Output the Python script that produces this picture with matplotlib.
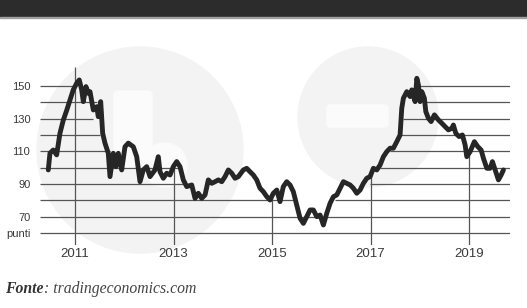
import numpy as np
import matplotlib
matplotlib.use("Agg")
import matplotlib.pyplot as plt
from matplotlib.patches import Circle, Rectangle, FancyBboxPatch

# ---------------- data ----------------
dates = [2010.458, 2010.492, 2010.559, 2010.628, 2010.695, 2010.762, 2010.831, 2010.898,
         2010.965, 2011.035, 2011.087, 2011.136, 2011.169, 2011.223, 2011.270, 2011.305,
         2011.372, 2011.441, 2011.473, 2011.522, 2011.562, 2011.609, 2011.676, 2011.711,
         2011.778, 2011.832, 2011.879, 2011.948, 2012.015, 2012.082, 2012.184, 2012.253,
         2012.320, 2012.387, 2012.456, 2012.523, 2012.624, 2012.691, 2012.726, 2012.793,
         2012.862, 2012.929, 2012.996, 2013.065, 2013.132, 2013.199, 2013.268, 2013.370,
         2013.437, 2013.504, 2013.573, 2013.640, 2013.707, 2013.776, 2013.843, 2013.910,
         2013.979, 2014.046, 2014.113, 2014.182, 2014.249, 2014.316, 2014.417, 2014.486,
         2014.553, 2014.620, 2014.689, 2014.756, 2014.823, 2014.892, 2014.959, 2015.026,
         2015.096, 2015.162, 2015.229, 2015.298, 2015.365, 2015.432, 2015.502, 2015.569,
         2015.636, 2015.705, 2015.772, 2015.839, 2015.908, 2015.975, 2016.042, 2016.111,
         2016.178, 2016.245, 2016.314, 2016.381, 2016.448, 2016.517, 2016.584, 2016.651,
         2016.720, 2016.787, 2016.854, 2016.923, 2016.990, 2017.057, 2017.126, 2017.193,
         2017.260, 2017.329, 2017.396, 2017.463, 2017.532, 2017.599, 2017.633, 2017.666,
         2017.735, 2017.802, 2017.836, 2017.904, 2017.939, 2017.971, 2018.005, 2018.040,
         2018.092, 2018.121, 2018.174, 2018.228, 2018.296, 2018.377, 2018.446, 2018.513,
         2018.580, 2018.649, 2018.681, 2018.730, 2018.797, 2018.864, 2018.919, 2018.953,
         2019.020, 2019.107, 2019.177, 2019.244, 2019.291, 2019.360, 2019.426, 2019.473,
         2019.528, 2019.595, 2019.650, 2019.697]
values = [98.6, 108.8, 110.8, 107.8, 121.0, 129.0, 135.0, 141.4,
          147.6, 151.7, 153.7, 147.6, 140.4, 149.6, 145.5, 146.5,
          135.3, 137.3, 131.2, 140.4, 121.0, 115.0, 108.8, 94.5,
          108.8, 100.6, 108.8, 98.6, 112.8, 115.0, 112.8, 106.7,
          91.4, 98.6, 100.6, 94.5, 98.6, 106.7, 97.5, 93.5,
          96.6, 95.5, 100.6, 103.7, 100.6, 92.5, 88.4, 89.4,
          81.2, 84.3, 81.2, 83.3, 92.5, 90.4, 91.4, 92.5,
          91.4, 94.5, 98.6, 96.6, 93.5, 94.5, 98.6, 99.6,
          97.5, 95.5, 92.5, 87.4, 85.3, 82.3, 80.2, 84.3,
          86.3, 79.2, 88.4, 91.4, 89.4, 85.3, 77.1, 69.0,
          65.9, 70.0, 74.1, 74.1, 70.0, 71.0, 64.9, 72.1,
          78.2, 82.2, 83.3, 87.4, 91.4, 90.4, 89.4, 87.4,
          84.3, 86.3, 90.4, 93.5, 94.5, 99.6, 98.6, 101.6,
          106.7, 109.8, 111.9, 111.9, 115.9, 120.0, 136.3, 142.5,
          146.5, 143.5, 147.6, 140.4, 154.7, 150.6, 140.4, 146.5,
          142.5, 134.3, 130.2, 128.2, 132.3, 129.2, 127.2, 125.1,
          123.1, 124.1, 126.1, 121.0, 119.0, 120.0, 113.9, 106.7,
          109.8, 115.9, 112.8, 110.8, 105.7, 99.6, 99.6, 103.7,
          98.6, 92.5, 95.5, 98.6]

grid_levels = [60, 70, 80, 90, 100, 110, 120, 130, 140, 150]
# visible gridline extents (left part ends / right part starts), None = full line
grid_left_end = [None, None, 2015.50, 2013.19, 2013.13, 2011.71, 2011.50, 2011.37, 2011.45, 2011.00]
grid_right_start = [None, None, 2016.28, 2016.99, 2017.19, 2017.40, 2017.60, 2017.66, 2018.07, 2018.00]

year_ticks = [2011, 2013, 2015, 2017, 2019]
year_labels = ["2011", "2013", "2015", "2017", "2019"]
y_ticks = [60, 70, 90, 110, 130, 150]
y_labels = ["punti", "70", "90", "110", "130", "150"]
source_bold = "Fonte"
source_rest = ": tradingeconomics.com"

# ---------------- figure ----------------
W, H = 527, 308
fig = plt.figure(figsize=(W / 100, H / 100), dpi=100)
fig.patch.set_facecolor("white")

# decoration layer (pixel coords)
bg = fig.add_axes([0, 0, 1, 1])
bg.set_xlim(0, W)
bg.set_ylim(H, 0)
bg.axis("off")
bg.add_patch(Rectangle((0, 0), W, 17, color="#2c2c2c", zorder=1))
bg.add_patch(Rectangle((0, 17), W, 1.2, color="#a0a0a0", zorder=1))
# watermark discs (very faint)
bg.add_patch(Circle((140, 150), 103, color="#f3f3f3", zorder=1))
bg.add_patch(Circle((368, 117), 70, color="#f3f3f3", zorder=1))
bg.add_patch(FancyBboxPatch((118, 95), 30, 70, boxstyle="round,pad=4", color="#fbfbfb", zorder=2))
bg.add_patch(Circle((165, 165), 22, color="#fbfbfb", zorder=2))
bg.add_patch(FancyBboxPatch((330, 108), 55, 16, boxstyle="round,pad=3", color="#fbfbfb", zorder=2))

# main chart
x0, x1 = 40, 510
ytop, ybot = 67, 245
ax = fig.add_axes([x0 / W, 1 - ybot / H, (x1 - x0) / W, (ybot - ytop) / H])
ax.patch.set_alpha(0)
xmin, xmax = 2010.29, 2019.83
ymin, ymax = 52.65, 161.6
ax.set_xlim(xmin, xmax)
ax.set_ylim(ymin, ymax)
for s in ax.spines.values():
    s.set_visible(False)

gcol = "#555555"
glw = 0.9
for lev, le, rs in zip(grid_levels, grid_left_end, grid_right_start):
    if le is None:
        ax.plot([xmin, xmax], [lev, lev], color=gcol, lw=glw, zorder=2, solid_capstyle="butt")
    else:
        ax.plot([xmin, le], [lev, lev], color=gcol, lw=glw, zorder=2, solid_capstyle="butt")
        ax.plot([rs, xmax], [lev, lev], color=gcol, lw=glw, zorder=2, solid_capstyle="butt")

for i, yr in enumerate(year_ticks):
    top = ymax if i == 0 else np.interp(yr, dates, values)
    ax.plot([yr, yr], [ymin, top], color=gcol, lw=glw, zorder=2, solid_capstyle="butt")

ax.plot(dates, values, color="#262626", lw=3.5, zorder=5, solid_joinstyle="round",
        solid_capstyle="round")

ax.set_xticks(year_ticks)
ax.set_xticklabels(year_labels, fontfamily="Liberation Sans", fontsize=9.5, color="#3a3a3a")
ax.set_yticks(y_ticks)
ax.set_yticklabels(y_labels, fontfamily="Liberation Sans", fontsize=8, color="#3a3a3a")
ax.tick_params(axis="x", length=0, pad=2.5)
ax.tick_params(axis="y", length=0, pad=7)

# source
t1 = fig.text(5 / W, 1 - 293 / H, source_bold, fontfamily="Liberation Serif", fontstyle="italic",
              fontweight="bold", fontsize=11.3, color="#333333", va="baseline", ha="left")
fig.canvas.draw()
bb = t1.get_window_extent()
fig.text(bb.x1 / W, 1 - 293 / H, source_rest, fontfamily="Liberation Serif", fontstyle="italic",
         fontsize=11.3, color="#444444", va="baseline", ha="left")

fig.savefig("out.png", dpi=100)
